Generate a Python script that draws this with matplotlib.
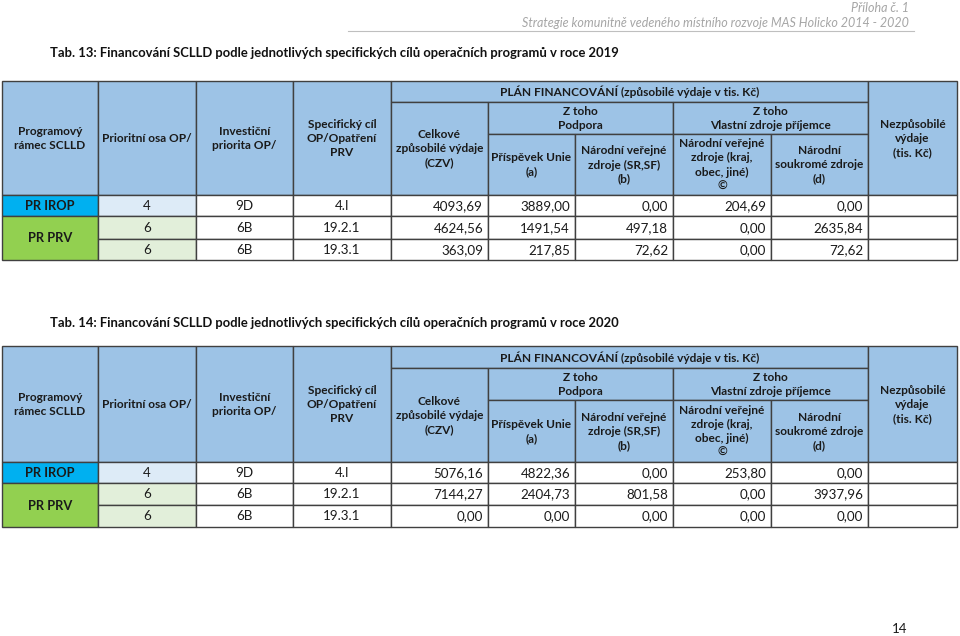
import matplotlib.pyplot as plt
from matplotlib.patches import Rectangle

plt.rcParams['font.family'] = ['Lato', 'DejaVu Sans']

# data
programy = ['PR IROP', 'PR PRV', 'PR PRV']
osy = ['4', '6', '6']
priority = ['9D', '6B', '6B']
cile = ['4.I', '19.2.1', '19.3.1']

czv_2019 = [4093.69, 4624.56, 363.09]
unie_2019 = [3889.00, 1491.54, 217.85]
sr_sf_2019 = [0.00, 497.18, 72.62]
kraj_2019 = [204.69, 0.00, 0.00]
soukrome_2019 = [0.00, 2635.84, 72.62]

czv_2020 = [5076.16, 7144.27, 0.00]
unie_2020 = [4822.36, 2404.73, 0.00]
sr_sf_2020 = [0.00, 801.58, 0.00]
kraj_2020 = [253.80, 0.00, 0.00]
soukrome_2020 = [0.00, 3937.96, 0.00]

hlavicka = ['Programový\nrámec SCLLD', 'Prioritní osa OP/', 'Investiční\npriorita OP/',
            'Specifický cíl\nOP/Opatření\nPRV']
celkove = 'Celkové\nzpůsobilé výdaje\n(CZV)'
plan = 'PLÁN FINANCOVÁNÍ (způsobilé výdaje v tis. Kč)'
skupiny = ['Z toho\nPodpora', 'Z toho\nVlastní zdroje příjemce']
podsloupce = ['Příspěvek Unie\n(a)', 'Národní veřejné\nzdroje (SR,SF)\n(b)',
              'Národní veřejné\nzdroje (kraj,\nobec, jiné)\n©', 'Národní\nsoukromé zdroje\n(d)']
nezpusobile = 'Nezpůsobilé\nvýdaje\n(tis. Kč)'

nadpis_2019 = 'Tab. 13: Financování SCLLD podle jednotlivých specifických cílů operačních programů v roce 2019'
nadpis_2020 = 'Tab. 14: Financování SCLLD podle jednotlivých specifických cílů operačních programů v roce 2020'

# layout (pixels)
col_x = [2, 98, 196, 293, 391, 488, 575, 673, 771, 868, 957]
rows_2019 = [81, 102, 134, 195, 216, 239, 260]
rows_2020 = [346, 368, 400, 462, 483, 505, 527]

HEAD = '#9dc3e6'
IROP = '#00b0f0'
PRV = '#92d050'
LIGHT_BLUE = '#ddebf7'
LIGHT_GREEN = '#e2efda'
EDGE = '#404040'
FS = 9.6
FS_HEAD = 8.6


def fmt(v):
    return f'{v:.2f}'.replace('.', ',')


def cell(ax, x0, x1, y0, y1, color, text='', ha='center', bold=False, fs=None):
    ax.add_patch(Rectangle((x0, y0), x1 - x0, y1 - y0, facecolor=color,
                           edgecolor=EDGE, linewidth=1.0))
    if text:
        if ha == 'center':
            tx = (x0 + x1) / 2
        else:
            tx = x1 - 5
        if fs is None:
            fs = FS_HEAD if bold else FS
        ax.text(tx, (y0 + y1) / 2 + 0.5, text, ha=ha, va='center', fontsize=fs,
                fontweight='bold' if bold else 'normal', color='#1a1a1a',
                linespacing=1.35)


def draw_table(ax, ry, czv, unie, sr_sf, kraj, soukrome):
    x = col_x
    top, r1, r2, hb = ry[0], ry[1], ry[2], ry[3]
    # hlavička
    for i, t in enumerate(hlavicka):
        cell(ax, x[i], x[i + 1], top, hb, HEAD, t, bold=True)
    cell(ax, x[4], x[9], top, r1, HEAD, plan, bold=True)
    cell(ax, x[4], x[5], r1, hb, HEAD, celkove, bold=True)
    cell(ax, x[5], x[7], r1, r2, HEAD, skupiny[0], bold=True)
    cell(ax, x[7], x[9], r1, r2, HEAD, skupiny[1], bold=True)
    for i, t in enumerate(podsloupce):
        cell(ax, x[5 + i], x[6 + i], r2, hb, HEAD, t, bold=True)
    cell(ax, x[9], x[10], top, hb, HEAD, nezpusobile, bold=True)

    # tělo tabulky
    cell(ax, x[0], x[1], ry[3], ry[4], IROP, programy[0], bold=True, fs=9.3)
    cell(ax, x[0], x[1], ry[4], ry[6], PRV, programy[1], bold=True, fs=9.3)
    for k in range(3):
        y0, y1 = ry[3 + k], ry[4 + k]
        cell(ax, x[1], x[2], y0, y1, LIGHT_BLUE if k == 0 else LIGHT_GREEN, osy[k])
        cell(ax, x[2], x[3], y0, y1, 'white', priority[k])
        cell(ax, x[3], x[4], y0, y1, 'white', cile[k])
        vals = [czv[k], unie[k], sr_sf[k], kraj[k], soukrome[k]]
        for j, v in enumerate(vals):
            cell(ax, x[4 + j], x[5 + j], y0, y1, 'white', fmt(v), ha='right')
        cell(ax, x[9], x[10], y0, y1, 'white')


fig = plt.figure(figsize=(9.6, 6.36), dpi=100)
ax = fig.add_axes([0, 0, 1, 1])
ax.set_xlim(0, 960)
ax.set_ylim(636, 0)
ax.axis('off')

# záhlaví stránky
ax.text(909, 8, 'Příloha č. 1', ha='right', va='center', fontsize=9,
        style='italic', color='#a6a6a6')
ax.text(909, 23, 'Strategie komunitně vedeného místního rozvoje MAS Holicko 2014 - 2020',
        ha='right', va='center', fontsize=9, style='italic', color='#a6a6a6')
ax.plot([348, 914], [31, 31], color='#bfbfbf', linewidth=0.8)

ax.text(50, 53, nadpis_2019, ha='left', va='center', fontsize=9.4, fontweight='bold',
        color='#111111')
draw_table(ax, rows_2019, czv_2019, unie_2019, sr_sf_2019, kraj_2019, soukrome_2019)

ax.text(50, 323, nadpis_2020, ha='left', va='center', fontsize=9.4, fontweight='bold',
        color='#111111')
draw_table(ax, rows_2020, czv_2020, unie_2020, sr_sf_2020, kraj_2020, soukrome_2020)

ax.text(900, 629, '14', ha='center', va='center', fontsize=9.6, color='#1a1a1a')

fig.savefig('out.png', dpi=100)
